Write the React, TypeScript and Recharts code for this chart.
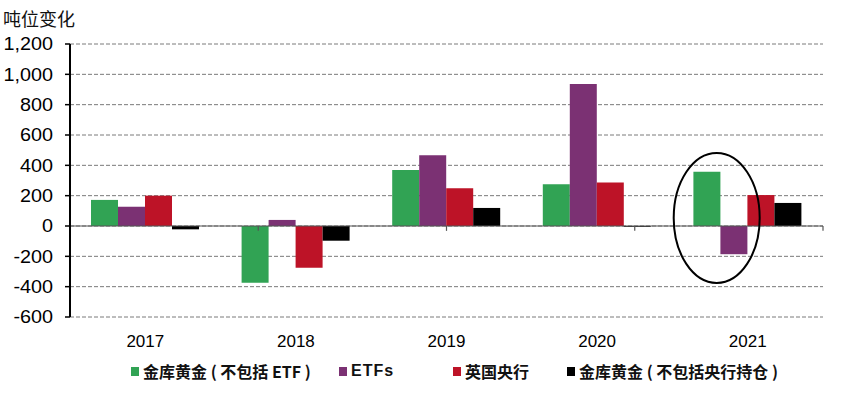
import {
  BarChart,
  Bar,
  XAxis,
  YAxis,
  CartesianGrid,
  ReferenceLine,
  ReferenceDot,
} from 'recharts';

const years = ['2017', '2018', '2019', '2020', '2021'];
const vaultGold = [172, -374, 370, 275, 358];
const etfHoldings = [127, 40, 466, 936, -186];
const bankOfEngland = [200, -275, 249, 286, 204];
const vaultExCentral = [-22, -97, 119, -5, 152];
const yTicks = [-600, -400, -200, 0, 200, 400, 600, 800, 1000, 1200];
const boundaries = [1, 2, 3, 4, 5];

const seriesNames = ['金库黄金 ( 不包括 ETF )', 'ETFs', '英国央行', '金库黄金 ( 不包括央行持仓 )'];
const seriesKeys = ['vault', 'etf', 'boe', 'vaultEx'];
const seriesColors = ['#31a354', '#7b3173', '#bd1327', '#000000'];
// legend item x positions
const legendX = [131, 339, 453, 567];

const data = years.map((year, i) => ({
  year,
  vault: vaultGold[i],
  etf: etfHoldings[i],
  boe: bankOfEngland[i],
  vaultEx: vaultExCentral[i],
}));

const NUM_FONT = '"Liberation Sans", Arial, sans-serif';
const CJK_FONT = '"Noto Sans CJK SC", "Noto Sans", sans-serif';

const formatTick = (v: number) => v.toLocaleString('en-US');

// y labels in the source look slightly stretched sideways
const YTick = (props: any) => {
  const { x, y, payload } = props;
  return (
    <text
      transform={`translate(${x},${y}) scale(1.1,1)`}
      textAnchor="end"
      dy="0.36em"
      fontFamily={NUM_FONT}
      fontSize={18}
      fill="#000"
    >
      {formatTick(payload.value)}
    </text>
  );
};

const EllipseMark = (props: any) => {
  const { cx, cy } = props;
  if (cx == null || cy == null) return null;
  return <ellipse cx={cx - 31} cy={cy} rx={43} ry={65} fill="none" stroke="#000" strokeWidth={2} />;
};

export default function App() {
  return (
    <div style={{ position: 'absolute', left: 0, top: 0, width: 845, height: 397, background: '#fff' }}>
      <div
        style={{
          position: 'absolute',
          left: 3,
          top: 5,
          fontFamily: CJK_FONT,
          fontSize: 18,
          lineHeight: '26px',
          color: '#111',
        }}
      >
        吨位变化
      </div>
      <BarChart
        width={845}
        height={397}
        data={data}
        margin={{ top: 44, right: 22, bottom: 50, left: 0 }}
        barSize={27}
        barGap={0}
      >
        <CartesianGrid vertical={false} stroke="#7a7a7a" strokeDasharray="4 2" />
        <XAxis
          dataKey="year"
          height={30}
          axisLine={false}
          tickLine={false}
          tickSize={6}
          tickMargin={12}
          tick={{ fontFamily: NUM_FONT, fontSize: 17, fill: '#000' }}
        />
        <XAxis xAxisId="b" type="number" domain={[0, 5]} hide />
        <YAxis
          type="number"
          domain={[-600, 1200]}
          ticks={yTicks}
          width={70}
          interval={0}
          axisLine={{ stroke: '#000', strokeWidth: 2 }}
          tickLine={{ stroke: '#000', strokeWidth: 1.5 }}
          tickSize={5}
          tickMargin={12}
          tick={<YTick />}
        />
        <ReferenceLine y={0} stroke="#555" strokeWidth={1.2} />
        {boundaries.map((b) => (
          <ReferenceLine
            key={b}
            xAxisId="b"
            segment={[
              { x: b, y: 0 },
              { x: b, y: -32 },
            ]}
            stroke="#555"
            strokeWidth={1.2}
          />
        ))}
        {seriesKeys.map((key, i) => (
          <Bar key={key} dataKey={key} name={seriesNames[i]} fill={seriesColors[i]} isAnimationActive={false} />
        ))}
        <ReferenceDot x="2021" y={53} r={1} ifOverflow="visible" shape={EllipseMark} />
      </BarChart>
      {seriesNames.map((name, i) => (
        <div
          key={name}
          style={{
            position: 'absolute',
            left: legendX[i],
            top: 359,
            height: 24,
            display: 'flex',
            alignItems: 'center',
            whiteSpace: 'nowrap',
            fontFamily: CJK_FONT,
            fontWeight: 700,
            fontSize: 16,
            color: '#111',
          }}
        >
          <span style={{ display: 'inline-block', width: 8, height: 9, background: seriesColors[i], marginRight: 4 }} />
          <span style={i === 1 ? { fontFamily: NUM_FONT, letterSpacing: 1 } : undefined}>{name}</span>
        </div>
      ))}
    </div>
  );
}
